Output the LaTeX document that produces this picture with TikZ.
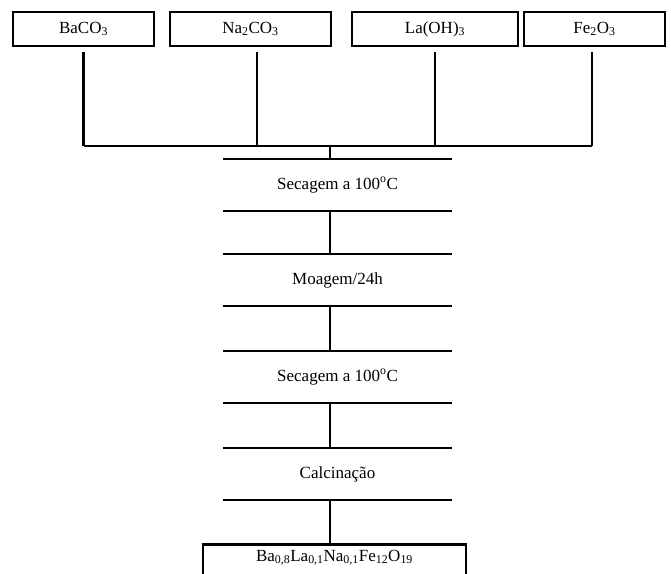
\documentclass[tikz,border=0pt]{standalone}
\usepackage{fontspec}
\setmainfont{Liberation Serif}
\usetikzlibrary{positioning}
\newcommand{\degC}{\textsuperscript{o}C}

\begin{document}
\begin{tikzpicture}[
  x=1pt, y=-1pt,
  font=\fontsize{17}{20}\selectfont,
  box/.style={draw, line width=2.5pt, minimum height=34pt, inner sep=0pt},
  stepbox/.style={minimum width=229pt, minimum height=52pt, inner sep=0pt},
  bar/.style={line width=2.5pt},
  fine/.style={line width=1.4pt}
]
  \useasboundingbox (0,0) rectangle (671,573);

  \node[box, minimum width=141pt] (ba) at (83.5,29) {BaCO\textsubscript{3}};
  \node[box, minimum width=161pt] (na) at (250.5,29) {Na\textsubscript{2}CO\textsubscript{3}};
  \node[box, minimum width=166pt] (la) at (435,29) {La(OH)\textsubscript{3}};
  \node[box, minimum width=141pt] (fe) at (594.5,29) {Fe\textsubscript{2}O\textsubscript{3}};

  \coordinate (bus) at (330,146);

  \node[stepbox] (s1) at (337.5,185) {Secagem a 100\degC};
  \node[stepbox] (s2) at (337.5,280) {Moagem/24h};
  \node[stepbox] (s3) at (337.5,377) {Secagem a 100\degC};
  \node[stepbox] (s4) at (337.5,474) {Calcina\c{c}\~ao};

  \node[draw, line width=2.5pt, anchor=north, minimum width=263pt, inner ysep=0pt,
        text height=17pt, text depth=25pt] (prod) at (334.5,543)
        {Ba\textsubscript{0,8}La\textsubscript{0,1}Na\textsubscript{0,1}Fe\textsubscript{12}O\textsubscript{19}};

  \draw[bar] ([yshift=-5pt]ba.south) -- (ba.south |- bus);
  \draw[fine] ([xshift=6.5pt, yshift=-5pt]na.south) -- ([xshift=6.5pt]na.south |- bus);
  \draw[bar] ([yshift=-5pt]la.south) -- (la.south |- bus);
  \draw[bar] ([xshift=-2.5pt, yshift=-5pt]fe.south) -- ([xshift=-2.5pt]fe.south |- bus);
  \draw[bar] (ba.south |- bus) -- ([xshift=-2.5pt]fe.south |- bus);
  \draw[bar] (bus) -- (s1.north -| bus);

  \foreach \s in {s1,s2,s3,s4} {
    \draw[bar] (\s.north west) -- (\s.north east);
    \draw[bar] (\s.south west) -- (\s.south east);
  }

  \draw[bar] (s1.south -| bus) -- (s2.north -| bus);
  \draw[fine] (s2.south -| bus) -- (s3.north -| bus);
  \draw[bar] (s3.south -| bus) -- (s4.north -| bus);
  \draw[bar] (s4.south -| bus) -- (prod.north -| bus);
\end{tikzpicture}
\end{document}
